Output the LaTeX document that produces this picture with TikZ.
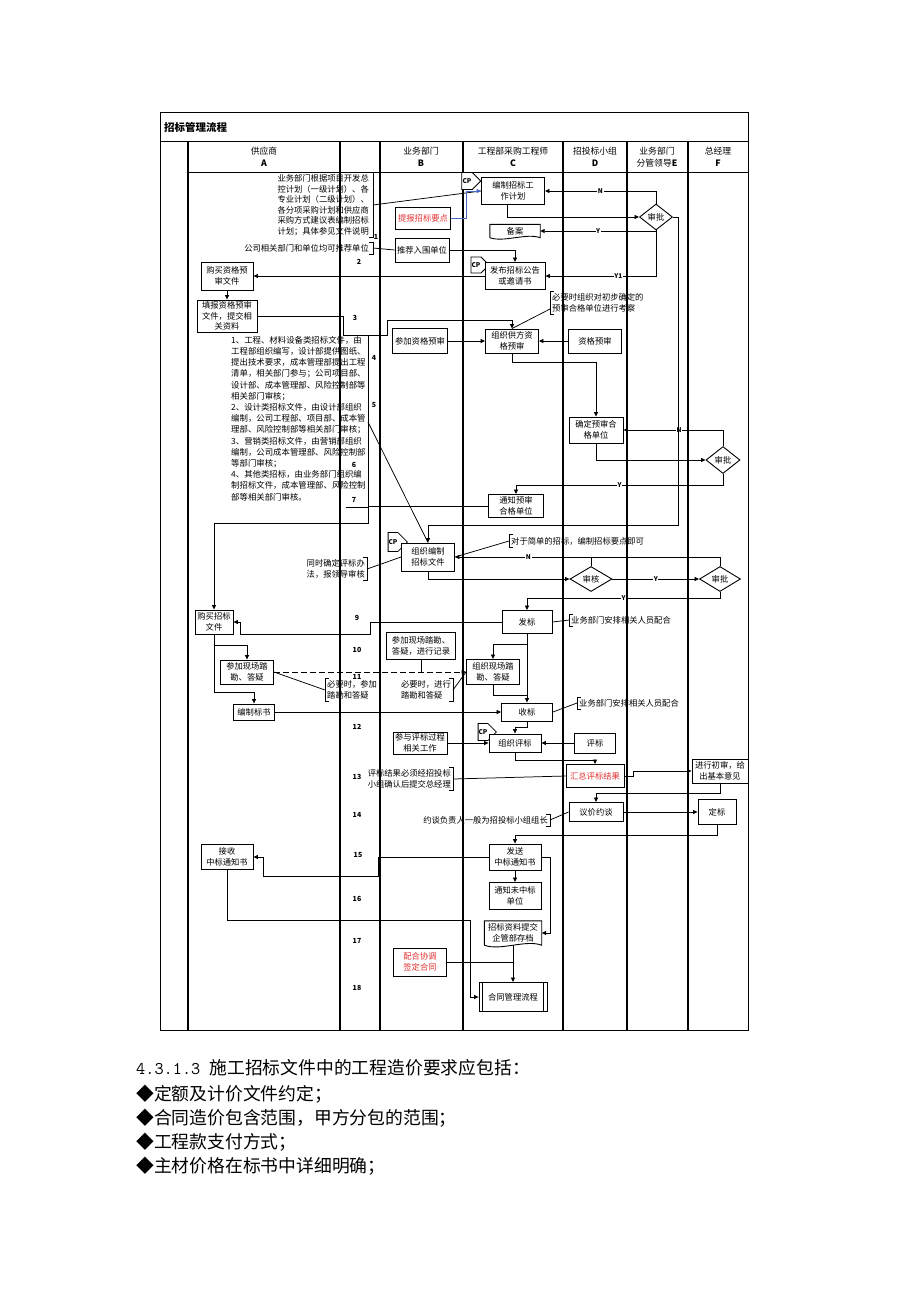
\documentclass[tikz,border=0pt]{standalone}
\usepackage{fontspec}
\setmainfont{Noto Sans CJK SC}
\usetikzlibrary{shapes.geometric,shapes.symbols,arrows.meta}
\definecolor{notered}{RGB}{226,48,48}
\definecolor{linkblue}{RGB}{72,104,200}
\newcommand{\fsz}[2]{\fontsize{#1}{#2}\selectfont}
\begin{document}
\begin{tikzpicture}[x=1pt,y=-1pt]
\tikzstyle{every node}+=[inner sep=1pt]
\tikzstyle{box}=[draw, line width=0.9pt, fill=white, align=center, font=\fsz{8.3}{10.5}]
\tikzstyle{plain}=[align=center, font=\fsz{8.3}{10.5}]
\tikzstyle{dec}=[draw, line width=0.9pt, fill=white, diamond, inner sep=0pt, font=\fsz{8.3}{10.5}]
\tikzstyle{cp}=[draw, line width=0.8pt, fill=white, signal, signal to=east, inner sep=0.5pt, font=\fsz{6.5}{7}\bfseries]
\tikzstyle{note}=[align=center, inner xsep=2pt, inner ysep=2pt, font=\fsz{8.3}{10.5}]
\tikzstyle{flow}=[line width=0.75pt, -{Triangle[length=4.5pt,width=4pt]}]
\tikzstyle{link}=[line width=0.75pt]
\tikzstyle{brk}=[line width=0.8pt]
\tikzstyle{yn}=[fill=white, inner sep=0.6pt, font=\fsz{6.5}{7}\bfseries]
\tikzstyle{stepno}=[font=\fsz{7}{8}\bfseries]
\tikzstyle{head}=[align=center, font=\fsz{8.8}{12}]
\tikzstyle{lane}=[line width=1.3pt]
\tikzstyle{body}=[anchor=west, font=\fsz{17.8}{20}]
\fill[white] (0,0) rectangle (920,1302);
\useasboundingbox (0,0) rectangle (920,1302);
% frame and lanes
\draw[line width=1pt] (160,112) rectangle (748,1030);
\draw[line width=1pt] (160,141) -- (748,141);
\draw[lane] (188,141) -- (188,1030);
\draw[lane] (340,141) -- (340,1030);
\draw[lane] (380,141) -- (380,1030);
\draw[lane] (463,141) -- (463,1030);
\draw[lane] (563,141) -- (563,1030);
\draw[lane] (627,141) -- (627,1030);
\draw[lane] (688,141) -- (688,1030);
\draw[line width=1pt] (188,172) -- (748,172);
\node[anchor=west, font=\fsz{10.5}{12}\bfseries] (title) at (163,127) {招标管理流程};
\node[head] (hA) at (264,157) {供应商\\\textbf{A}};
\node[head] (hB) at (421,157) {业务部门\\\textbf{B}};
\node[head] (hC) at (513,157) {工程部采购工程师\\\textbf{C}};
\node[head] (hD) at (595,157) {招投标小组\\\textbf{D}};
\node[head] (hE) at (657,157) {业务部门\\分管领导\textbf{E}};
\node[head] (hF) at (718,157) {总经理\\\textbf{F}};
\node[stepno] (s1) at (376,237) {1};
\node[stepno] (s2) at (359,262) {2};
\node[stepno] (s3) at (355,318) {3};
\node[stepno] (s4) at (374,358) {4};
\node[stepno] (s5) at (374,405) {5};
\node[stepno] (s6) at (354,465) {6};
\node[stepno] (s7) at (354,500) {7};
\node[stepno] (s9) at (357,618) {9};
\node[stepno] (s10) at (357,650) {10};
\node[stepno] (s11) at (357,677) {11};
\node[stepno] (s12) at (357,727) {12};
\node[stepno] (s13) at (357,777) {13};
\node[stepno] (s14) at (357,815) {14};
\node[stepno] (s15) at (358,855) {15};
\node[stepno] (s16) at (357,899) {16};
\node[stepno] (s17) at (357,941) {17};
\node[stepno] (s18) at (357,988) {18};
% notes
\node[note, anchor=east, inner xsep=4pt] (n1) at (373,205) {业务部门根据项目开发总\\控计划（一级计划）、各\\专业计划（二级计划）、\\各分项采购计划和供应商\\采购方式建议表编制招标\\计划；具体参见文件说明};
\node[note, anchor=east, inner xsep=4pt] (n2) at (373,248) {公司相关部门和单位均可推荐单位};
\node[note, anchor=west, align=left] (n3) at (550,303) {必要时组织对初步确定的\\预审合格单位进行考察};
\node[anchor=north west, align=left, inner sep=0pt, font=\fsz{8.4}{11.2}] (n4) at (231,336) {1、工程、材料设备类招标文件，由\\工程部组织编写，设计部提供图纸、\\提出技术要求，成本管理部提出工程\\清单，相关部门参与；公司项目部、\\设计部、成本管理部、风险控制部等\\相关部门审核；\\2、设计类招标文件，由设计部组织\\编制，公司工程部、项目部、成本管\\理部、风险控制部等相关部门审核；\\3、营销类招标文件，由营销部组织\\编制，公司成本管理部、风险控制部\\等部门审核；\\4、其他类招标，由业务部门组织编\\制招标文件，成本管理部、风险控制\\部等相关部门审核。};
\node[note, anchor=west, align=left] (n5) at (509,541) {对于简单的招标，编制招标要点即可};
\node[note, anchor=east, align=right] (n6) at (367,569) {同时确定评标办\\法，报领导审核};
\node[note, anchor=west, align=left] (n7) at (569,620) {业务部门安排相关人员配合};
\node[note, anchor=west, align=left] (n8) at (325,690) {必要时，参加\\踏勘和答疑};
\node[note, anchor=east, align=left] (n9) at (453,690) {必要时，进行\\踏勘和答疑};
\node[note, anchor=west, align=left] (n10) at (577,703) {业务部门安排相关人员配合};
\node[note, anchor=east] (n11) at (453,779) {评标结果必须经招投标\\小组确认后提交总经理};
\node[note, anchor=east] (n12) at (550,820) {约谈负责人一般为招投标小组组长};
\draw[brk] ([xshift=-4pt]n1.north east) -- (n1.north east) -- (n1.south east) -- ([xshift=-4pt]n1.south east);
\draw[brk] ([xshift=-4pt]n2.north east) -- (n2.north east) -- (n2.south east) -- ([xshift=-4pt]n2.south east);
\draw[brk] ([xshift=4pt]n3.north west) -- (n3.north west) -- (n3.south west) -- ([xshift=4pt]n3.south west);
\draw[brk] (346,335) -- (368,335) -- (368,507) -- (346,507);
\coordinate (n4tip) at (368,422);
\draw[brk] ([xshift=4pt]n5.north west) -- (n5.north west) -- (n5.south west) -- ([xshift=4pt]n5.south west);
\draw[brk] ([xshift=-4pt]n6.north east) -- (n6.north east) -- (n6.south east) -- ([xshift=-4pt]n6.south east);
\draw[brk] ([xshift=4pt]n7.north west) -- (n7.north west) -- (n7.south west) -- ([xshift=4pt]n7.south west);
\draw[brk] ([xshift=4pt]n8.north west) -- (n8.north west) -- (n8.south west) -- ([xshift=4pt]n8.south west);
\draw[brk] ([xshift=-4pt]n9.north east) -- (n9.north east) -- (n9.south east) -- ([xshift=-4pt]n9.south east);
\draw[brk] ([xshift=4pt]n10.north west) -- (n10.north west) -- (n10.south west) -- ([xshift=4pt]n10.south west);
\draw[brk] ([xshift=-4pt]n11.north east) -- (n11.north east) -- (n11.south east) -- ([xshift=-4pt]n11.south east);
\draw[brk] ([xshift=-4pt]n12.north east) -- (n12.north east) -- (n12.south east) -- ([xshift=-4pt]n12.south east);
% boxes
\node[cp, minimum width=19pt, minimum height=17pt] (cp1) at (467,181) {CP};
\node[box, minimum width=63pt, minimum height=27pt] (bianzhi) at (513,191) {编制招标工\\作计划};
\node[dec, minimum width=33pt, minimum height=26pt] (shenpi1) at (656,217) {审批};
\node[box, text=notered, minimum width=55pt, minimum height=22pt] (tibao) at (423,218) {提报招标要点};
\node[plain, minimum width=50pt, minimum height=13pt] (beian) at (515,231) {备案};
\draw[line width=0.9pt] (beian.south west) -- (beian.north west) -- (beian.north east) -- (beian.south east) .. controls +(-14,-5) and +(14,5) .. (beian.south west);
\node[box, minimum width=54pt, minimum height=24pt] (tuijian) at (422,250) {推荐入围单位};
\node[cp, minimum width=18pt, minimum height=16pt] (cp2) at (476,265) {CP};
\node[box, minimum width=60pt, minimum height=27pt] (fabu) at (515,276) {发布招标公告\\或邀请书};
\node[box, minimum width=52pt, minimum height=28pt] (goumaizg) at (227,276) {购买资格预\\审文件};
\node[box, minimum width=60pt, minimum height=32pt] (tianbao) at (227,316) {填报资格预审\\文件，提交相\\关资料};
\node[box, minimum width=55pt, minimum height=25pt] (canjiazg) at (420,341) {参加资格预审};
\node[box, minimum width=53pt, minimum height=24pt] (zuzhigf) at (512,341) {组织供方资\\格预审};
\node[box, minimum width=53pt, minimum height=24pt] (zigeys) at (595,341) {资格预审};
\node[box, minimum width=54pt, minimum height=26pt] (queding) at (596,430) {确定预审合\\格单位};
\node[dec, minimum width=34pt, minimum height=27pt] (shenpi2) at (723,460) {审批};
\node[box, minimum width=55pt, minimum height=23pt] (tongzhi) at (516,506) {通知预审\\合格单位};
\node[cp, minimum width=14pt, minimum height=19pt] (cp3) at (393,542) {CP};
\node[box, minimum width=53pt, minimum height=28pt] (zuzhibz) at (428,557) {组织编制\\招标文件};
\node[dec, minimum width=42pt, minimum height=25pt] (shenhe) at (591,579) {审核};
\node[dec, minimum width=41pt, minimum height=25pt] (shenpi3) at (720,579) {审批};
\node[box, minimum width=50pt, minimum height=23pt] (fabiao) at (527,622) {发标};
\node[box, minimum width=38pt, minimum height=24pt] (goumai) at (214,622) {购买招标\\文件};
\node[box, minimum width=53pt, minimum height=24pt] (canjiaxc) at (247,672) {参加现场踏\\勘、答疑};
\node[box, minimum width=69pt, minimum height=27pt] (jilu) at (421,646) {参加现场踏勘、\\答疑，进行记录};
\node[box, minimum width=53pt, minimum height=25pt] (zuzhixc) at (493,672) {组织现场踏\\勘、答疑};
\node[box, minimum width=41pt, minimum height=16pt] (bianzhibs) at (254,712) {编制标书};
\node[box, minimum width=51pt, minimum height=18pt] (shoubiao) at (527,712) {收标};
\node[cp, minimum width=17pt, minimum height=17pt] (cp4) at (483,732) {CP};
\node[box, minimum width=52pt, minimum height=18pt] (zuzhipb) at (515,743) {组织评标};
\node[box, minimum width=41pt, minimum height=20pt] (pingbiao) at (595,743) {评标};
\node[box, minimum width=54pt, minimum height=22pt] (canyupb) at (420,743) {参与评标过程\\相关工作};
\node[box, text=notered, minimum width=58pt, minimum height=23pt] (huizong) at (595,776) {汇总评标结果};
\node[box, minimum width=56pt, minimum height=24pt] (chushen) at (720,771) {进行初审，给\\出基本意见};
\node[box, minimum width=54pt, minimum height=19pt] (yijia) at (596,812) {议价约谈};
\node[box, minimum width=38pt, minimum height=25pt] (dingbiao) at (717,812) {定标};
\node[box, minimum width=52pt, minimum height=26pt] (fasong) at (515,857) {发送\\中标通知书};
\node[box, minimum width=52pt, minimum height=25pt] (jieshou) at (227,857) {接收\\中标通知书};
\node[box, minimum width=52pt, minimum height=27pt] (weizhong) at (515,896) {通知未中标\\单位};
\node[plain, minimum width=57pt, minimum height=24pt] (ziliao) at (513,933) {招标资料提交\\企管部存档};
\draw[line width=0.9pt] (ziliao.south west) -- (ziliao.north west) -- (ziliao.north east) -- (ziliao.south east) .. controls +(-16,-6) and +(16,6) .. (ziliao.south west);
\node[box, text=notered, minimum width=53pt, minimum height=28pt] (peihe) at (420,962) {配合协调\\签定合同};
\node[box, minimum width=68pt, minimum height=29pt] (hetong) at (513,997) {合同管理流程};
\draw[line width=0.9pt] ([xshift=4pt]hetong.north west) -- ([xshift=4pt]hetong.south west) ([xshift=-4pt]hetong.north east) -- ([xshift=-4pt]hetong.south east);
% connectors
\draw[link] (n1.east) -- (bianzhi.west);
\draw[flow, linkblue] (tibao.east) -- ++(15,0) |- (bianzhi.west);
\draw[link] (n2.east) -- (tuijian.west);
\draw[flow] (tuijian.east) -| (fabu.north);
\draw[flow] ([xshift=-6pt]bianzhi.south) |- (shenpi1.west);
\draw[flow] (shenpi1.north) |- (bianzhi.east) node[yn, pos=0.75] {N};
\draw[flow] (shenpi1.south) |- (beian.east) node[yn, pos=0.75] {Y};
\draw[flow] (shenpi1.south) |- (fabu.east) node[yn, pos=0.67] {Y1};
\draw[flow] (fabu.west) -- (goumaizg.east);
\draw[flow] (goumaizg.south) -- (tianbao.north);
\draw[flow] (tianbao.east) -- (343,316) -- (343,335) -- (387,335) -- (387,320) -| (zuzhigf.north);
\draw[flow] (canjiazg.east) -- (zuzhigf.west);
\draw[flow] (zigeys.west) -- (zuzhigf.east);
\draw[link] ([yshift=-6pt]n3.west) -- (zuzhigf.north);
\draw[flow] (zuzhigf.south) -- ++(0,9) -| (queding.north);
\draw[flow] (queding.south) |- (shenpi2.west);
\draw[flow] (shenpi2.north) |- (queding.east) node[yn, pos=0.72] {N};
\draw[flow] (shenpi2.south) -- ++(0,11) -| (tongzhi.north) node[yn, pos=0.25] {Y};
\draw[flow] (tongzhi.west) -- (368,506) -- (368,523) -| (goumai.north);
\draw[link] (n4tip) -- (zuzhibz.north);
\draw[flow] (shenpi1.east) -| (678,525) -| (zuzhibz.north);
\draw[flow] (zuzhibz.south) |- (shenhe.west);
\draw[flow] (shenhe.east) -- (shenpi3.west) node[yn, midway] {Y};
\draw[flow] (shenhe.north) |- (zuzhibz.east) node[yn, pos=0.73] {N};
\draw[link] (shenpi3.north) |- (shenhe.north |- zuzhibz.east);
\draw[flow] (shenpi3.south) -- ++(0,6) -| (fabiao.north) node[yn, pos=0.25] {Y};
\draw[link] (n5.west) -- (zuzhibz.east);
\draw[link] (n6.east) -- (zuzhibz.west);
\draw[link] (fabiao.east) -- (n7.west);
\draw[flow] (fabiao.west) -- (370,622) -- (370,634) -- (240,634) -- (240,622) -- (goumai.east);
\draw[flow] (goumai.south) -- ++(0,11) -| (canjiaxc.north);
\draw[flow] (goumai.south) -- (214,692) -| (bianzhibs.north);
\draw[flow, line width=1pt, dash pattern=on 6pt off 3pt] (canjiaxc.east) -- (zuzhixc.west);
\draw[link] (canjiaxc.east) -- (n8.west);
\draw[link] (n9.east) -- (zuzhixc.west);
\draw[link] (jilu.south) -- (jilu.south |- canjiaxc.east);
\draw[flow] (fabiao.south) -- (shoubiao.north);
\draw[flow] (fabiao.south) -- ++(0,10) -| (zuzhixc.north);
\coordinate (j1) at (527,695);
\draw[link] (zuzhixc.south) |- (j1);
\draw[flow] (bianzhibs.east) -- (shoubiao.west);
\draw[link] (shoubiao.east) -- (n10.west);
\draw[flow] (shoubiao.south) -- ++(0,6) -| (zuzhipb.north);
\draw[flow] (pingbiao.west) -- (zuzhipb.east);
\draw[flow] (canyupb.east) -- (zuzhipb.west);
\draw[flow] (zuzhipb.south) -- ++(0,8) -| (huizong.north);
\draw[link] (n11.east) -- (huizong.west);
\draw[flow] (huizong.east) -- ++(9,0) |- (chushen.west);
\draw[flow] (chushen.south) -- ++(0,10) -| (yijia.north);
\draw[link] (n12.east) -- (yijia.west);
\draw[flow] (yijia.east) -- (dingbiao.west);
\draw[flow] (dingbiao.south) -- ++(0,10) -| (fasong.north);
\draw[flow] (fasong.west) -- (378,857) -- (378,876) -- (263,876) -- (263,857) -- (jieshou.east);
\draw[flow] (fasong.south) -- (weizhong.north);
\draw[flow] (fasong.east) -- (550,857) |- (ziliao.east);
\draw[flow] (jieshou.south) |- (470,920) |- (hetong.west);
\draw[flow] (ziliao.south) -- (hetong.north);
\draw[link] (peihe.east) -- (peihe.east -| hetong.north);
% text below
\node[body] (t0) at (135,1068) {{\ttfamily 4.3.1.3 }施工招标文件中的工程造价要求应包括：};
\node[body] (t1) at (135,1094) {◆定额及计价文件约定；};
\node[body] (t2) at (135,1118) {◆合同造价包含范围，甲方分包的范围；};
\node[body] (t3) at (135,1142) {◆工程款支付方式；};
\node[body] (t4) at (135,1166) {◆主材价格在标书中详细明确；};
\end{tikzpicture}
\end{document}
